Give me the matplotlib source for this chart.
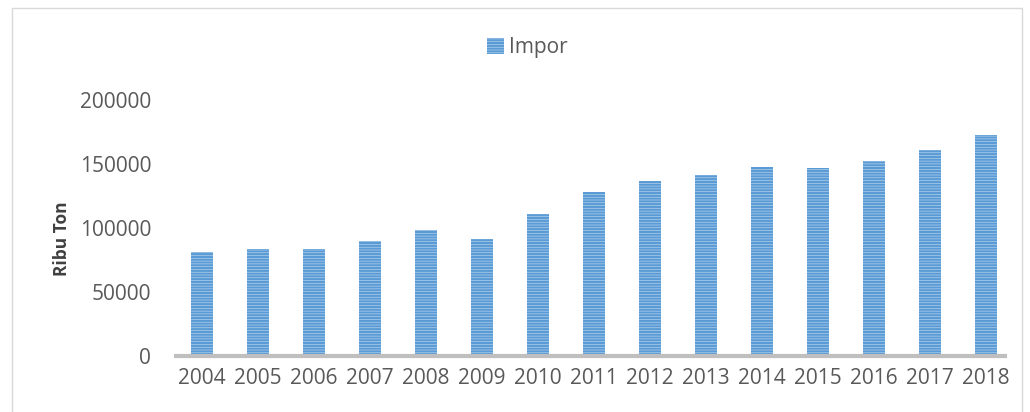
import matplotlib.pyplot as plt
from matplotlib.patches import Rectangle

years = ['2004', '2005', '2006', '2007', '2008', '2009', '2010', '2011',
         '2012', '2013', '2014', '2015', '2016', '2017', '2018']
impor = [81000, 83500, 83500, 89500, 98500, 91500, 111000, 128000,
         136500, 141500, 147500, 147000, 152500, 161000, 172500]

plt.rcParams['font.family'] = ['Open Sans', 'DejaVu Sans']
plt.rcParams['hatch.linewidth'] = 1.6

fig = plt.figure(figsize=(10.3, 4.12), dpi=100)
ax = fig.add_axes([0.171, 0.136, 0.805, 0.621])

ax.bar(range(len(years)), impor, width=0.39, color='#c5dcf0',
       edgecolor='#5b9bd5', linewidth=0, hatch='------', label='Impor')

ax.set_xlim(-0.46, 14.34)
ax.set_ylim(0, 200000)
ax.set_yticks([0, 50000, 100000, 150000, 200000])
ax.set_xticks(range(len(years)))
ax.set_xticklabels(years)
ax.tick_params(length=0, labelsize=15, colors='#595959')
ax.tick_params(axis='y', pad=18)
ax.tick_params(axis='x', pad=9)
for s in ['top', 'right', 'left']:
    ax.spines[s].set_visible(False)
ax.spines['bottom'].set_color('#bfbfbf')
ax.spines['bottom'].set_linewidth(3)

ax.set_ylabel('Ribu Ton', fontsize=12.5, fontweight='bold', color='#404040')
ax.yaxis.set_label_coords(-0.127, 0.46)

fig.legend(loc='center', bbox_to_anchor=(0.512, 0.885), frameon=False,
           fontsize=15, handlelength=0.8, handleheight=0.8, handletextpad=0.25,
           labelcolor='#595959')

fig.patches.append(Rectangle((0.012, -0.05), 0.98, 1.03, transform=fig.transFigure,
                             fill=False, edgecolor='#d9d9d9', linewidth=1))

fig.savefig('out.png', dpi=100)
